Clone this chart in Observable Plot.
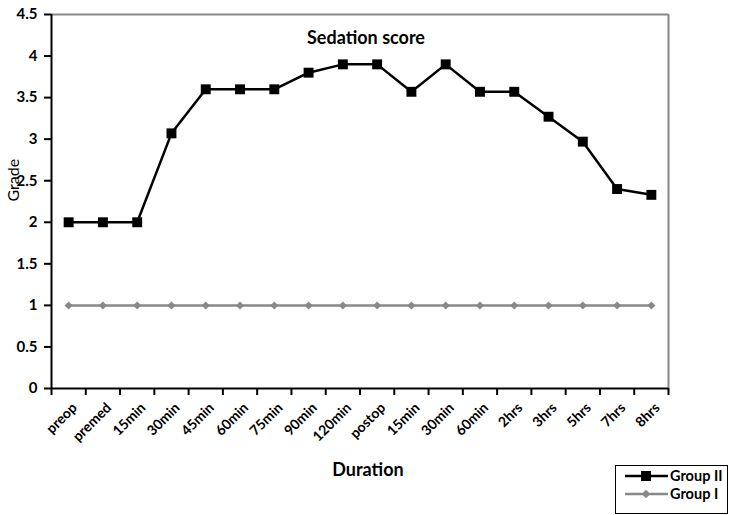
<!DOCTYPE html>
<html><head><meta charset="utf-8">
<script src="https://cdn.jsdelivr.net/npm/d3@7"></script>
<script src="https://cdn.jsdelivr.net/npm/@observablehq/plot@0.6"></script>
<style>
body{margin:0;background:#fff;font-family:Lato,"Open Sans",sans-serif;}
#wrap{position:relative;width:729px;height:515px;}
#legend{position:absolute;left:615px;top:465px;width:113px;height:49px;border:1px solid #000;box-sizing:border-box;background:#fff;font:bold 14.5px Lato,sans-serif;}
</style></head>
<body><div id="wrap"><div id="chart"></div><div id="legend"></div></div>
<script>
const labels = ["preop","premed","15min","30min","45min","60min","75min","90min","120min","postop","15min","30min","60min","2hrs","3hrs","5hrs","7hrs","8hrs"];
const groupII = [2,2,2,3.07,3.6,3.6,3.6,3.8,3.9,3.9,3.57,3.9,3.57,3.57,3.27,2.97,2.4,2.33];
const groupI = [1,1,1,1,1,1,1,1,1,1,1,1,1,1,1,1,1,1];
const yTicks = [0,0.5,1,1.5,2,2.5,3,3.5,4,4.5];
const title = "Sedation score";
const xTitle = "Duration";
const yTitle = "Grade";

const dII = groupII.map((v,i)=>({i, v}));
const dI = groupI.map((v,i)=>({i, v}));
const bounds = d3.range(labels.length+1).map(k=>k-0.5);

const chart = Plot.plot({
  width: 729, height: 515,
  marginLeft: 51, marginRight: 61, marginTop: 14, marginBottom: 127,
  style: {fontFamily: "Lato, sans-serif", background: "#fff"},
  x: {type: "linear", domain: [-0.5, labels.length-0.5]},
  y: {domain: [0, 4.5]},
  marks: [
    Plot.ruleY([4.5], {stroke: "#888", strokeWidth: 2}),
    Plot.ruleX([labels.length-0.5], {stroke: "#888", strokeWidth: 2}),
    Plot.axisY({ticks: yTicks, tickSize: 7, tickFormat: d=>String(d), tickPadding: 7, label: null,
      fontSize: 15, fontWeight: "bold", stroke: "#000", strokeWidth: 2, color: "#000"}),
    Plot.axisX({ticks: bounds, tickSize: 7, tickFormat: ()=>"", label: null, strokeWidth: 2, stroke: "#000"}),
    Plot.ruleX([-0.5], {stroke: "#000", strokeWidth: 2}),
    Plot.ruleY([0], {stroke: "#000", strokeWidth: 2}),
    Plot.text(labels, {x: (d,i)=>i, y: 0, text: d=>d, rotate: -45, textAnchor: "end",
      dx: 6, dy: 17, fontSize: 14, fontWeight: "bold", fill: "#000"}),
    Plot.line(dI, {x: "i", y: "v", stroke: "#888", strokeWidth: 2.5}),
    Plot.dot(dI, {x: "i", y: "v", symbol: "square", rotate: 45, r: 3.2, fill: "#888", stroke: "none"}),
    Plot.line(dII, {x: "i", y: "v", stroke: "#000", strokeWidth: 2.5}),
    Plot.dot(dII, {x: "i", y: "v", symbol: "square", r: 5.6, fill: "#000", stroke: "none"}),
    Plot.text([title], {frameAnchor: "top", dx: 6, dy: 17, fontSize: 18, fontWeight: "bold", fill: "#000"}),
    Plot.text([yTitle], {frameAnchor: "left", dx: -38, rotate: -90, fontSize: 16, fill: "#000"}),
    Plot.text([xTitle], {frameAnchor: "bottom", dx: 8, dy: 87, fontSize: 18, fontWeight: "bold", fill: "#000"})
  ]
});
document.getElementById("chart").appendChild(chart);

const items = [
  {name: "Group II", color: "#000", sym: "square"},
  {name: "Group I", color: "#888", sym: "diamond"}
];
const lg = document.getElementById("legend");
lg.innerHTML = items.map((it,k)=>{
  const y = 10 + k*18;
  const marker = it.sym === "square"
    ? `<rect x="25" y="${y-5}" width="10" height="10" fill="${it.color}"/>`
    : `<rect x="27" y="${y-3}" width="6" height="6" fill="${it.color}" transform="rotate(45 30 ${y})"/>`;
  return `<svg style="position:absolute;left:0;top:0" width="60" height="48"><line x1="9" x2="52" y1="${y}" y2="${y}" stroke="${it.color}" stroke-width="2.5"/>${marker}</svg><div style="position:absolute;left:54px;top:${y-10}px;line-height:20px;color:#000">${it.name}</div>`;
}).join("");
</script>
</body></html>
